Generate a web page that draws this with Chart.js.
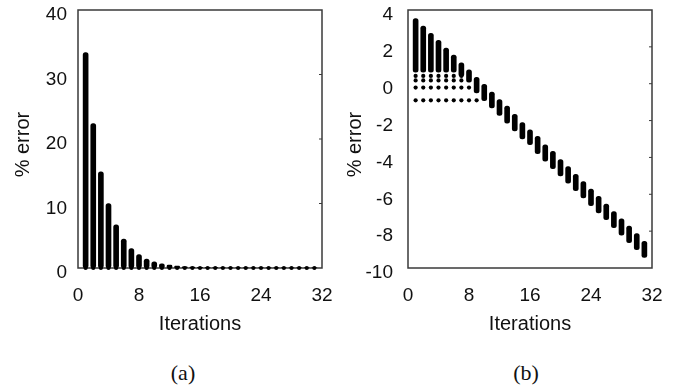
<!DOCTYPE html>
<html><head><meta charset="utf-8">
<script src="https://cdn.jsdelivr.net/npm/chart.js@4"></script>
<style>
html,body{margin:0;padding:0;background:#fff;width:685px;height:390px;overflow:hidden;}
canvas{position:absolute;top:0;}
#ca{left:0px} #cb{left:330px}
.cap{position:absolute;font-family:"Liberation Serif","Times New Roman",serif;font-size:22px;line-height:26px;color:#111;transform:translateX(-50%);top:360px;white-space:nowrap;}
</style></head><body>
<canvas id="ca" width="342" height="350"></canvas>
<canvas id="cb" width="342" height="350"></canvas>
<div class="cap" style="left:183px">(a)</div>
<div class="cap" style="left:526px">(b)</div>
<script>
// ---- data ----
const iterations = [1,2,3,4,5,6,7,8,9,10,11,12,13,14,15,16,17,18,19,20,21,22,23,24,25,26,27,28,29,30,31];
const errorHighA = [33.4,22.4,14.9,10.0,6.7,4.5,3.0,2.1,1.4,0.95,0.65,0.45,0.3,0.2,0.14,0.1,0.07,0.05,0.04,0.03,0.02,0.02,0.02,0.01,0.01,0.01,0.01,0.01,0.01,0.01,0.01];
const errorLowA  = [0,0,0,0,0,0,0,0,0,0,0,0,0,0,0,0,0,0,0,0,0,0,0,0,0,0,0,0,0,0,0];
const errorHighB = [3.54,3.13,2.73,2.36,1.93,1.55,1.13,0.75,0.35,-0.04,-0.45,-0.86,-1.22,-1.66,-2.11,-2.50,-2.86,-3.31,-3.67,-4.11,-4.50,-4.92,-5.31,-5.72,-6.11,-6.53,-6.94,-7.33,-7.72,-8.13,-8.55];
const errorLowB  = [0.62,0.62,0.62,0.62,0.62,0.62,0.40,0.08,-0.50,-0.92,-1.32,-1.72,-2.14,-2.56,-2.99,-3.31,-3.79,-4.20,-4.61,-5.01,-5.40,-5.81,-6.20,-6.62,-7.01,-7.38,-7.81,-8.22,-8.62,-9.00,-9.42];
const dotLevelsB   = [0.42, 0.18, -0.21, -0.90];
const dotLastIterB = [7, 7, 8, 9];
const xTickLabels  = [0, 8, 16, 24, 32];
const yTickLabelsA = [0, 10, 20, 30, 40];
const yTickLabelsB = [-10, -8, -6, -4, -2, 0, 2, 4];

Chart.defaults.font.family = '"Liberation Sans", Arial, sans-serif';
Chart.defaults.color = '#111';

const framePlugin = {
  id: 'frame',
  beforeDatasetsDraw(chart) {
    const {ctx, chartArea: a, scales} = chart;
    ctx.save();
    ctx.strokeStyle = '#3a3a3a';
    ctx.lineWidth = 1.5;
    ctx.strokeRect(a.left, a.top, a.right - a.left, a.bottom - a.top);
    ctx.lineWidth = 1;
    const ys = scales.y;
    ys.ticks.forEach(t => {
      const p = ys.getPixelForValue(t.value);
      if (p > a.top + 2 && p < a.bottom - 2) {
        ctx.beginPath(); ctx.moveTo(a.right - 3, p); ctx.lineTo(a.right, p); ctx.stroke();
      }
    });
    ctx.restore();
  }
};

function makeChart(id, bars, dots, yMin, yMax, yTicks, yTitleOffset, yPad) {
  return new Chart(document.getElementById(id), {
    type: 'bar',
    data: {
      datasets: [
        {
          type: 'bar',
          data: bars,
          backgroundColor: '#000',
          borderWidth: 0,
          borderRadius: 2.5,
          borderSkipped: false,
          barThickness: 5,
          order: 2
        },
        {
          type: 'line',
          data: dots,
          showLine: false,
          pointRadius: 2.1,
          pointBackgroundColor: '#000',
          pointBorderWidth: 0,
          clip: false,
          order: 1
        }
      ]
    },
    options: {
      responsive: false,
      animation: false,
      devicePixelRatio: 1,
      layout: {padding: {top: 10, right: 20, left: 0, bottom: 0}},
      plugins: {legend: {display: false}, tooltip: {enabled: false}},
      scales: {
        x: {
          type: 'linear', min: 0, max: 32, offset: false,
          grid: {display: false, drawTicks: false},
          border: {display: false},
          afterBuildTicks: s => { s.ticks = xTickLabels.map(v => ({value: v})); },
          afterFit: s => { s.height = 82; s.paddingLeft = 0; s.paddingRight = 0; },
          ticks: {padding: 16, font: {size: 19}, maxRotation: 0, autoSkip: false},
          title: {display: true, text: 'Iterations', font: {size: 20}, padding: {top: 0, bottom: 14}}
        },
        y: {
          type: 'linear', min: yMin, max: yMax,
          grid: {display: false, drawTicks: false},
          border: {display: false},
          afterBuildTicks: s => { s.ticks = yTicks.map(v => ({value: v})); },
          afterFit: s => { s.width = 78; s.paddingTop = 0; s.paddingBottom = 0; },
          ticks: {padding: yPad, font: {size: 19}, labelOffset: 5, autoSkip: false},
          title: {display: true, text: '% error\u00a0\u00a0', font: {size: 20}, padding: {top: yTitleOffset, bottom: 0}}
        }
      }
    },
    plugins: [framePlugin]
  });
}

const barsA = iterations.map((it, i) => ({x: it, y: [errorLowA[i], errorHighA[i]]}));
const dotsA = iterations.map((it, i) => ({x: it, y: errorLowA[i]}));
const barsB = iterations.map((it, i) => ({x: it, y: [errorLowB[i], errorHighB[i]]}));
const dotsB = [];
dotLevelsB.forEach((lv, j) => {
  iterations.filter(it => it <= dotLastIterB[j]).forEach(it => dotsB.push({x: it, y: lv}));
});

makeChart('ca', barsA, dotsA, 0, 40, yTickLabelsA, 11, 11);
makeChart('cb', barsB, dotsB, -10, 4, yTickLabelsB, 13, 15);
</script>
</body></html>
